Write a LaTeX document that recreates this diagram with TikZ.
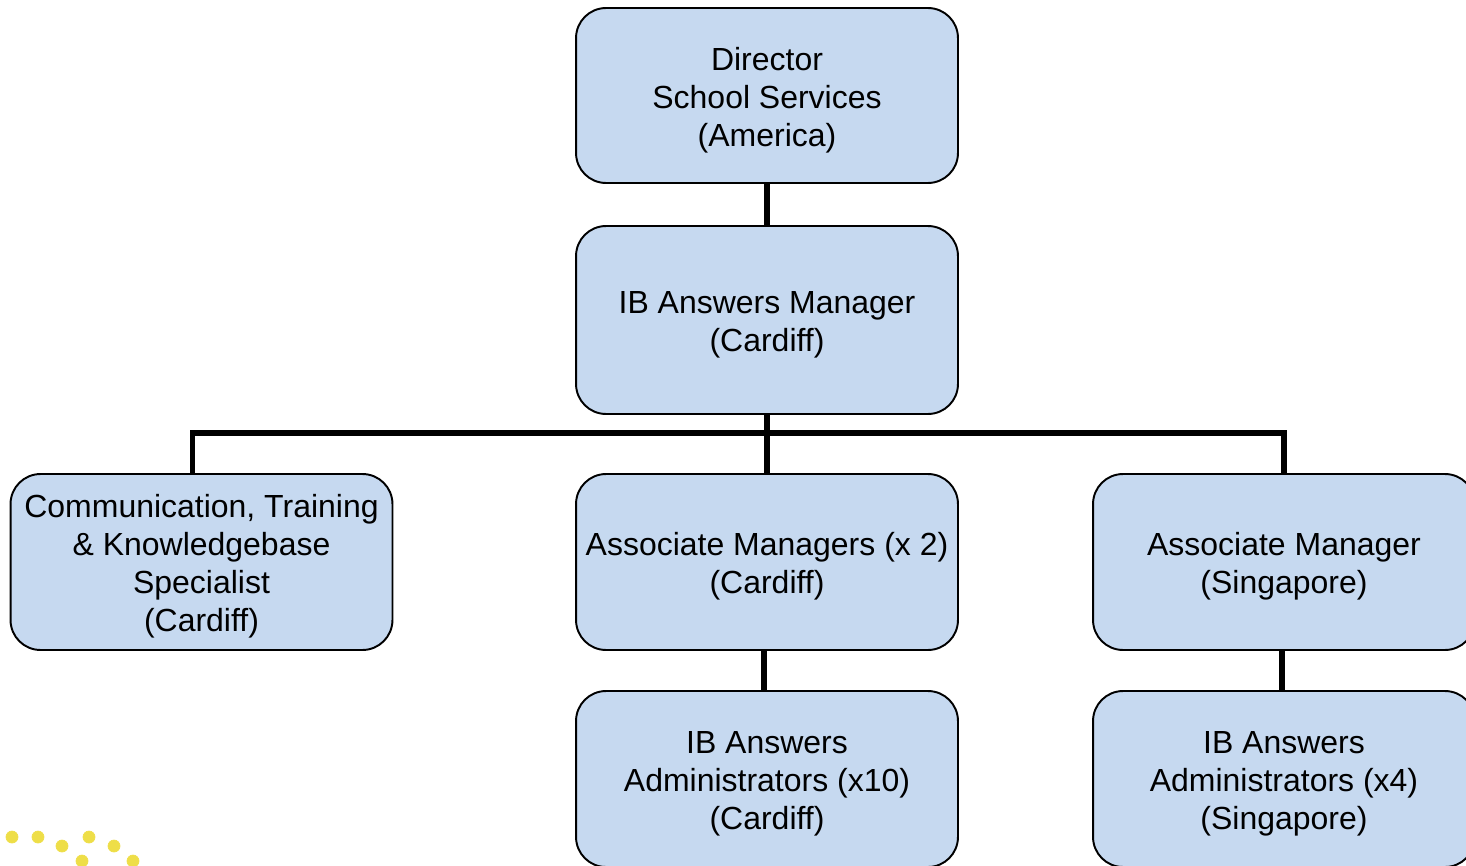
\documentclass[tikz,border=0pt]{standalone}
\usepackage{fontspec}
\setmainfont{Liberation Sans}
\definecolor{boxblue}{RGB}{198,217,240}
\definecolor{dotyellow}{RGB}{238,222,72}
\newcommand{\posttext}[1]{\raisebox{-0.1cm}[\height][\depth]{\begin{tabular}{@{}c@{}}#1\end{tabular}}}
\begin{document}
\begin{tikzpicture}[x=0.02cm,y=-0.02cm,
    post/.style={draw=black, line width=1.1pt, fill=boxblue, rounded corners=0.6cm,
      minimum width=7.64cm, minimum height=3.5cm, inner sep=0pt,
      font=\fontsize{18.2}{21.6}\selectfont},
    link/.style={line width=3.4pt}]
    \useasboundingbox (0,0) rectangle (1466,865);
    \clip (0,0) rectangle (1466,865);
    % yellow dots, bottom left
    \filldraw[dotyellow]  (12,837) circle (0.12cm);
    \filldraw[dotyellow]  (38,837) circle (0.12cm);
    \filldraw[dotyellow]  (62,846) circle (0.12cm);
    \filldraw[dotyellow]  (89,837) circle (0.12cm);
    \filldraw[dotyellow]  (114,846) circle (0.12cm);
    \filldraw[dotyellow]  (82,861) circle (0.12cm);
    \filldraw[dotyellow]  (133,861) circle (0.12cm);
    
    \node[post] (director) at (767,95.5) {\posttext{Director\\School Services\\(America)}};
    \node[post, minimum height=3.76cm] (manager) at (767,320) {\posttext{IB Answers Manager\\(Cardiff)}};
    \node[post, minimum height=3.52cm] (comm) at (201.5,562) {\posttext{Communication, Training\\\& Knowledgebase\\Specialist\\(Cardiff)}};
    \node[post, minimum height=3.52cm] (assoc) at (767,562) {\posttext{Associate Managers (x 2)\\(Cardiff)}};
    \node[post, minimum height=3.52cm] (assocsg) at (1284,562) {\posttext{Associate Manager\\(Singapore)}};
    \node[post, minimum height=3.52cm] (admin) at (767,779) {\posttext{IB Answers\\Administrators (x10)\\(Cardiff)}};
    \node[post, minimum height=3.52cm] (adminsg) at (1284,779) {\posttext{IB Answers\\Administrators (x4)\\(Singapore)}};
    
    \coordinate (bar) at (767,433);
    \draw[link] (director) -- (manager);
    \draw[link] (manager) -- (bar);
    \draw[link] (bar) -| ([xshift=-0.18cm]comm.north);
    \draw[link] (bar) -| (assocsg.north);
    \draw[link] (bar) -- (assoc);
    \draw[link] ([xshift=-0.06cm]assoc.south) -- ([xshift=-0.06cm]admin.north);
    \draw[link] ([xshift=-0.04cm]assocsg.south) -- ([xshift=-0.04cm]adminsg.north);
\end{tikzpicture}
\end{document}
